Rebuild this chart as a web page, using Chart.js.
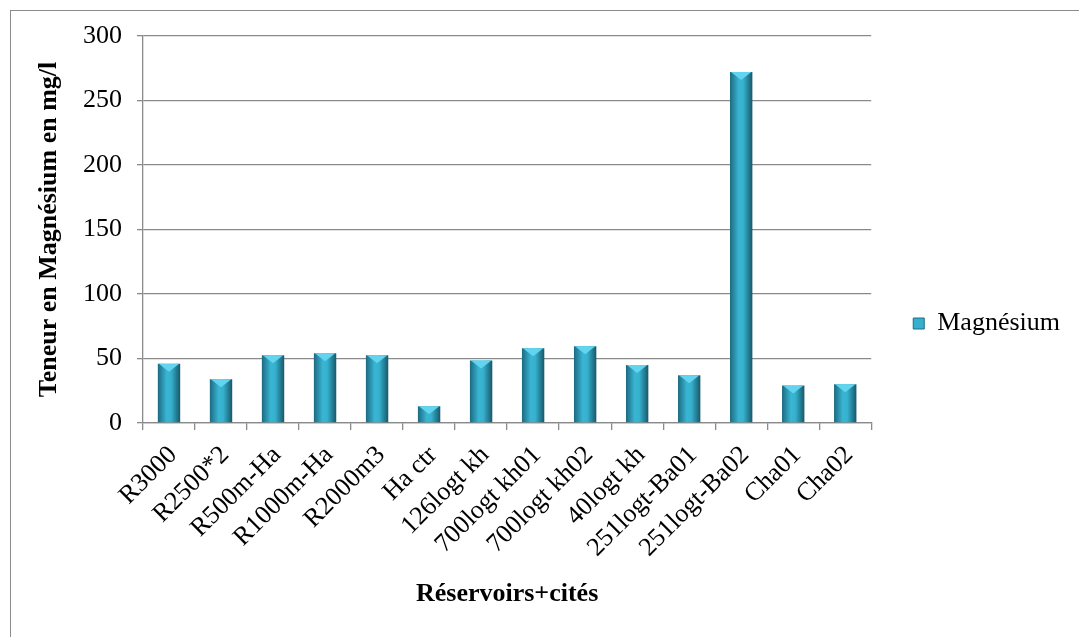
<!DOCTYPE html>
<html><head><meta charset="utf-8">
<script src="https://cdn.jsdelivr.net/npm/chart.js@4.4.0/dist/chart.umd.min.js"></script>
<style>html,body{margin:0;padding:0;background:#fff;}#wrap{width:1079px;height:637px;}</style>
</head><body><div id="wrap"><canvas id="c" width="1079" height="637"></canvas></div>
<script>
const categories = ['R3000','R2500*2','R500m-Ha','R1000m-Ha','R2000m3','Ha ctr','126logt kh','700logt kh01','700logt kh02','40logt kh','251logt-Ba01','251logt-Ba02','Cha01','Cha02'];
const magnesium = [46, 34, 52.5, 54, 52.5, 13, 48.5, 58, 59.5, 45, 37, 272, 29, 30];
const yTicks = [0, 50, 100, 150, 200, 250, 300];
const seriesName = 'Magnésium';
const yTitle = 'Teneur en Magnésium en mg/l';
const xTitle = 'Réservoirs+cités';

const FONT = "'Liberation Serif', 'Times New Roman', serif";
const GRID = '#8a8a8a';
const BAR_PCT = 0.43;

function barFill(ctx) {
  const chart = ctx.chart;
  const xs = chart.scales && chart.scales.x;
  if (!xs || ctx.dataIndex === undefined || !chart.chartArea) return '#35aecb';
  const cx = xs.getPixelForValue(ctx.dataIndex);
  const w = (xs.width / categories.length) * BAR_PCT;
  const g = chart.ctx.createLinearGradient(cx - w / 2, 0, cx + w / 2, 0);
  g.addColorStop(0, '#1c6a80');
  g.addColorStop(0.4, '#39b6d4');
  g.addColorStop(0.6, '#36b0cd');
  g.addColorStop(1, '#17586b');
  return g;
}

const framePlugin = {
  id: 'frame',
  beforeDraw(chart) {
    const c = chart.ctx;
    c.save();
    c.fillStyle = '#fff';
    c.fillRect(0, 0, chart.width, chart.height);
    c.strokeStyle = '#8c8c8c';
    c.lineWidth = 1;
    c.strokeRect(10.5, 10.5, chart.width + 20, chart.height + 20);
    c.restore();
  },
  afterLayout(chart) {
    if (chart.legend) { chart.legend.top -= 8; chart.legend.bottom -= 8; }
  }
};

const bevelPlugin = {
  id: 'bevel',
  afterDatasetsDraw(chart) {
    const meta = chart.getDatasetMeta(0);
    const c = chart.ctx;
    c.save();
    meta.data.forEach(bar => {
      const p = bar.getProps(['x', 'y', 'width'], true);
      const h = Math.min(8, p.width * 0.38);
      c.fillStyle = '#62d4ef';
      c.beginPath();
      c.moveTo(p.x - p.width / 2 + 1, p.y);
      c.lineTo(p.x + p.width / 2 - 1, p.y);
      c.lineTo(p.x, p.y + h);
      c.closePath();
      c.fill();
    });
    c.restore();
  }
};

new Chart(document.getElementById('c'), {
  type: 'bar',
  data: {
    labels: categories,
    datasets: [{
      label: seriesName,
      data: magnesium,
      backgroundColor: barFill,
      borderWidth: 0,
      barPercentage: BAR_PCT,
      categoryPercentage: 1.0
    }]
  },
  options: {
    responsive: false,
    animation: false,
    layout: { padding: { left: 20, top: 36, right: 9, bottom: 10 } },
    plugins: {
      tooltip: { enabled: false },
      legend: {
        position: 'right',
        align: 'center',
        labels: {
          boxWidth: 11, boxHeight: 11, padding: 42,
          color: '#000',
          font: { family: FONT, size: 26 },
          generateLabels(chart) {
            const items = Chart.defaults.plugins.legend.labels.generateLabels(chart);
            items.forEach(it => { it.fillStyle = '#36afcc'; it.strokeStyle = '#1d6f86'; it.lineWidth = 1; });
            return items;
          }
        }
      }
    },
    scales: {
      x: {
        type: 'category',
        grid: { drawOnChartArea: false, drawTicks: true, tickLength: 7, color: GRID, lineWidth: 1.3, offset: true },
        border: { color: GRID, width: 1.3 },
        ticks: { color: '#000', font: { family: FONT, size: 26 }, maxRotation: 45, minRotation: 45, padding: 10, labelOffset: 4, autoSkip: false },
        title: { display: true, text: xTitle, color: '#000', font: { family: FONT, size: 26, weight: 'bold' }, padding: { top: 0, bottom: 17 } },
        afterFit(s) { s.height = 204; }
      },
      y: {
        min: 0, max: 300,
        afterBuildTicks(s) { s.ticks = yTicks.map(v => ({ value: v })); },
        grid: { color: GRID, lineWidth: 1.3, tickLength: 6, drawTicks: true },
        border: { color: GRID, width: 1.3 },
        ticks: { color: '#000', font: { family: FONT, size: 26 }, padding: 15 },
        title: { display: true, text: yTitle, color: '#000', font: { family: FONT, size: 26, weight: 'bold' }, padding: { top: 14, bottom: 0 } },
        afterFit(s) { s.width = 123; }
      }
    }
  },
  plugins: [framePlugin, bevelPlugin]
});
</script>
</body></html>
